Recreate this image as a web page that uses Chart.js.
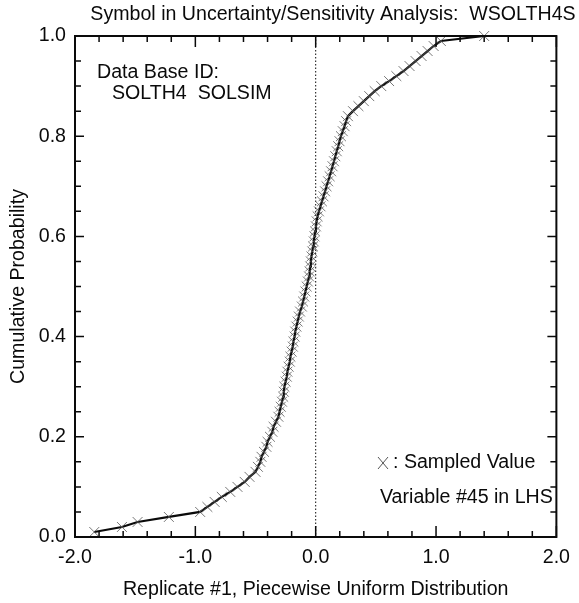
<!DOCTYPE html>
<html>
<head>
<meta charset="utf-8">
<script src="https://cdn.jsdelivr.net/npm/chart.js@4.4.1/dist/chart.umd.min.js"></script>
<style>
  html, body { margin: 0; padding: 0; background: #fff; }
  #wrap { width: 579px; height: 603px; }
</style>
</head>
<body>
<div id="wrap"><canvas id="cdfChart" width="579" height="603"></canvas></div>
<script>
const sampleValues = [
  -1.84, -1.61, -1.48, -1.22, -0.96, -0.90, -0.84, -0.78, -0.71, -0.65,
  -0.59, -0.55, -0.50, -0.48, -0.46, -0.45, -0.43, -0.41, -0.40, -0.38,
  -0.36, -0.35, -0.33, -0.31, -0.30, -0.29, -0.28, -0.27, -0.265, -0.26,
  -0.25, -0.24, -0.235, -0.225, -0.215, -0.21, -0.20, -0.19, -0.185, -0.175,
  -0.17, -0.16, -0.15, -0.14, -0.13, -0.115, -0.105, -0.095, -0.085, -0.075,
  -0.065, -0.055, -0.05, -0.045, -0.04, -0.035, -0.028, -0.022, -0.016, -0.01,
  -0.005, 0.002, 0.008, 0.016, 0.027, 0.04, 0.052, 0.065, 0.078, 0.09,
  0.103, 0.116, 0.128, 0.14, 0.152, 0.163, 0.175, 0.187, 0.198, 0.21,
  0.225, 0.24, 0.253, 0.268, 0.31, 0.355, 0.40, 0.445, 0.49, 0.545,
  0.61, 0.67, 0.73, 0.78, 0.83, 0.88, 0.93, 0.98, 1.04, 1.40
];
const cumulativeProb = [
  0.01, 0.02, 0.03, 0.04, 0.05, 0.06, 0.07, 0.08, 0.09, 0.10,
  0.11, 0.12, 0.13, 0.14, 0.15, 0.16, 0.17, 0.18, 0.19, 0.20,
  0.21, 0.22, 0.23, 0.24, 0.25, 0.26, 0.27, 0.28, 0.29, 0.30,
  0.31, 0.32, 0.33, 0.34, 0.35, 0.36, 0.37, 0.38, 0.39, 0.40,
  0.41, 0.42, 0.43, 0.44, 0.45, 0.46, 0.47, 0.48, 0.49, 0.50,
  0.51, 0.52, 0.53, 0.54, 0.55, 0.56, 0.57, 0.58, 0.59, 0.60,
  0.61, 0.62, 0.63, 0.64, 0.65, 0.66, 0.67, 0.68, 0.69, 0.70,
  0.71, 0.72, 0.73, 0.74, 0.75, 0.76, 0.77, 0.78, 0.79, 0.80,
  0.81, 0.82, 0.83, 0.84, 0.85, 0.86, 0.87, 0.88, 0.89, 0.90,
  0.91, 0.92, 0.93, 0.94, 0.95, 0.96, 0.97, 0.98, 0.99, 1.00
];
const xMajorTicks = [-2, -1, 0, 1, 2];
const yMajorTicks = [0, 0.2, 0.4, 0.6, 0.8, 1.0];

const FONT = '"Liberation Sans", Arial, Helvetica, sans-serif';
const SIZE = 19.6;
const INK = '#0a0a0a';

// frame with inward ticks on all sides, dotted zero line, text notes
const framePlugin = {
    id: 'framePlugin',
    beforeDatasetsDraw(chart) {
        const {ctx, chartArea: a, scales: {x}} = chart;
        const x0 = x.getPixelForValue(0);
        ctx.save();
        ctx.strokeStyle = INK;
        ctx.lineWidth = 1;
        ctx.setLineDash([1.5, 2]);
        ctx.beginPath();
        ctx.moveTo(x0, a.top);
        ctx.lineTo(x0, a.bottom);
        ctx.stroke();
        ctx.restore();
    },
    afterDatasetsDraw(chart) {
        const {ctx, chartArea: a, scales: {x, y}} = chart;
        ctx.save();
        ctx.strokeStyle = INK;
        ctx.lineWidth = 1.5;

        // x ticks every 0.2, longer at the labelled values
        for (let i = 0; i <= 20; i++) {
            const v = -2 + i * 0.2;
            const px = x.getPixelForValue(v);
            const len = xMajorTicks.some(t => Math.abs(t - v) < 1e-6) ? 11 : 6;
            ctx.beginPath();
            ctx.moveTo(px, a.bottom); ctx.lineTo(px, a.bottom - len);
            ctx.moveTo(px, a.top); ctx.lineTo(px, a.top + len);
            ctx.stroke();
        }
        // y ticks every 0.05
        for (let i = 0; i <= 20; i++) {
            const v = i * 0.05;
            const py = y.getPixelForValue(v);
            const len = yMajorTicks.some(t => Math.abs(t - v) < 1e-6) ? 9 : 6;
            ctx.beginPath();
            ctx.moveTo(a.left, py); ctx.lineTo(a.left + len, py);
            ctx.moveTo(a.right, py); ctx.lineTo(a.right - len, py);
            ctx.stroke();
        }
        ctx.lineWidth = 2;
        ctx.strokeRect(a.left, a.top, a.right - a.left, a.bottom - a.top);

        // text
        ctx.fillStyle = INK;
        ctx.textBaseline = 'middle';
        ctx.textAlign = 'center';
        ctx.font = SIZE + 'px ' + FONT;
        ctx.fillText('Symbol in Uncertainty/Sensitivity Analysis:  WSOLTH4S', 333, 15);

        ctx.textAlign = 'left';
        ctx.fillText('Data Base ID:', 97, 73);
        ctx.fillText('SOLTH4  SOLSIM', 112, 94);
        ctx.fillText(': Sampled Value', 393, 463);
        ctx.fillText('Variable #45 in LHS', 380, 498);

        // legend cross
        ctx.strokeStyle = '#555';
        ctx.lineWidth = 1;
        ctx.beginPath();
        ctx.moveTo(378, 457); ctx.lineTo(388, 469);
        ctx.moveTo(388, 457); ctx.lineTo(378, 469);
        ctx.stroke();
        ctx.restore();
    }
};

class CdfChart {
    constructor(canvasId) {
        this.ctx = document.getElementById(canvasId);
    }

    createChart() {
        const points = sampleValues.map((v, i) => ({x: v, y: cumulativeProb[i]}));
        const font = { family: FONT, size: SIZE };
        new Chart(this.ctx, {
            type: 'scatter',
            data: {
                datasets: [{
                    data: points,
                    showLine: true,
                    tension: 0,
                    borderColor: INK,
                    borderWidth: 2.2,
                    pointStyle: 'crossRot',
                    pointRadius: 7,
                    pointBorderWidth: 0.8,
                    pointBorderColor: '#555',
                    pointBackgroundColor: '#555',
                    clip: false
                }]
            },
            options: {
                responsive: false,
                animation: false,
                layout: { padding: { top: 36, right: 16, left: 0, bottom: 0 } },
                plugins: { legend: { display: false }, tooltip: { enabled: false } },
                scales: {
                    x: {
                        type: 'linear',
                        min: -2, max: 2,
                        border: { display: false },
                        grid: { display: false, drawTicks: false },
                        ticks: {
                            stepSize: 1, autoSkip: false, padding: 9,
                            color: INK, font: font,
                            callback: v => v.toFixed(1)
                        },
                        title: {
                            display: true,
                            text: 'Replicate #1, Piecewise Uniform Distribution',
                            color: INK, font: font,
                            padding: { top: 0, bottom: 2 }
                        },
                        afterFit(scale) { scale.height = 66; }
                    },
                    y: {
                        type: 'linear',
                        min: 0, max: 1,
                        border: { display: false },
                        grid: { display: false, drawTicks: false },
                        ticks: {
                            stepSize: 0.2, autoSkip: false, padding: 9,
                            color: INK, font: font,
                            callback: v => v.toFixed(1)
                        },
                        title: {
                            display: true,
                            text: 'Cumulative Probability',
                            color: INK, font: font,
                            padding: { top: 7, bottom: 0 }
                        },
                        afterFit(scale) { scale.width = 75; }
                    }
                }
            },
            plugins: [framePlugin]
        });
    }
}

const cdf = new CdfChart('cdfChart');
cdf.createChart();
</script>
</body>
</html>
